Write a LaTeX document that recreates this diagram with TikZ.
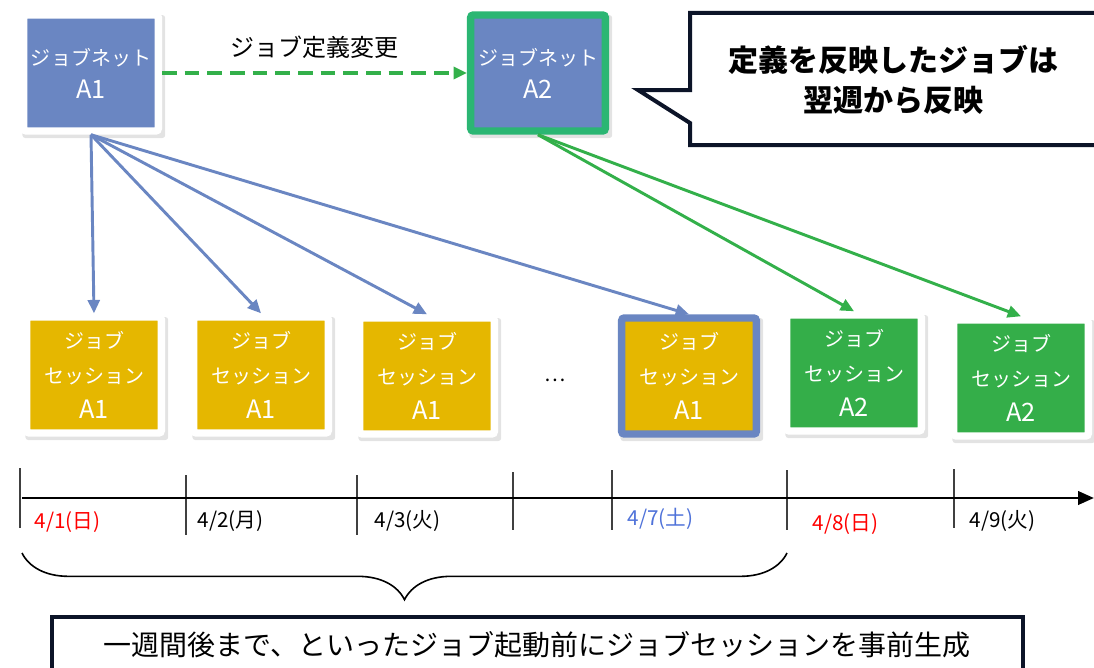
\documentclass[tikz,border=0pt]{standalone}
\usepackage{fontspec}
\setmainfont{Noto Sans CJK JP}
\usetikzlibrary{arrows.meta,positioning,shadows,decorations.pathreplacing}
\definecolor{netblue}{HTML}{6A86C2}
\definecolor{sessgold}{HTML}{E5B700}
\definecolor{sessgreen}{HTML}{34AE49}
\definecolor{netgreen}{HTML}{2BB673}
\definecolor{arrowgreen}{HTML}{33B04A}
\definecolor{navy}{HTML}{0C1428}
\definecolor{dateblue}{HTML}{4F72D9}
\newcommand{\idtxt}[1]{{\fontsize{19}{20}\selectfont #1}}

\begin{document}
\begin{tikzpicture}[x=0.75pt, y=-0.75pt,
    card/.style={rectangle, draw=white, line width=5.6pt, rounded corners=2pt, minimum width=101pt, minimum height=87pt, inner sep=0pt, text=white, align=center, drop shadow={shadow xshift=2pt, shadow yshift=-2.5pt, shadow scale=1.06, opacity=0.22}},
    net/.style={card, fill=netblue, font=\fontsize{15}{24.75}\selectfont},
    sess/.style={card, font=\fontsize{15}{26.25}\selectfont},
    blink/.style={-{Triangle[length=10pt,width=9pt]}, draw=netblue, line width=2.2pt},
    glink/.style={blink, draw=arrowgreen},
    date/.style={anchor=west, font=\fontsize{15.5}{17}\selectfont},
    frame/.style={draw=navy, line width=3pt, line join=miter}
]
\useasboundingbox (0,0) rectangle (1094,667);

\node[net] (netA1) at (91,73) {ジョブネット\\\idtxt{A1}};
\node[net, draw=netgreen] (netA2) at (538,73) {ジョブネット\\\idtxt{A2}};

\node[sess, fill=sessgold] (sess1) at (94,375) {ジョブ\\セッション\\\idtxt{A1}};
\node[sess, fill=sessgold] (sess2) at (261,375) {ジョブ\\セッション\\\idtxt{A1}};
\node[sess, fill=sessgold] (sess3) at (427,376) {ジョブ\\セッション\\\idtxt{A1}};
\node[font=\fontsize{15}{16}\selectfont] (dots) at (555,380) {…};
\node[sess, fill=sessgold, draw=netblue] (sess4) at (689,376) {ジョブ\\セッション\\\idtxt{A1}};
\node[sess, fill=sessgreen] (sess5) at (854,373) {ジョブ\\セッション\\\idtxt{A2}};
\node[sess, fill=sessgreen] (sess6) at (1021,378) {ジョブ\\セッション\\\idtxt{A2}};

\draw[glink, line width=2.8pt, dash pattern=on 11pt off 6pt] (netA1.east) -- (netA2.west)
    node[midway, above=6pt, text=black, font=\fontsize{18}{20}\selectfont] {ジョブ定義変更};

\foreach \s in {sess1,sess2,sess3,sess4}
    \draw[blink] (netA1.south) -- (\s.north);
\foreach \s in {sess5,sess6}
    \draw[glink] (netA2.south) -- (\s.north);

\draw[frame, fill=white] (690,13) -- (1100,13) -- (1100,145) -- (690,145) -- (690,123) -- (638,90) -- (690,90) -- cycle;
\node[font=\bfseries\fontsize{22.5}{30}\selectfont, align=center] (msg) at (893,80) {定義を反映したジョブは\\翌週から反映};

\coordinate (t0) at (22,498);
\coordinate (t1) at (1094,498);
\foreach \x/\ya/\yb in {20/468/528, 186/475/535, 357/475/535, 513/472/530, 612/470/530, 787/470/530, 954/469/528}
    \draw[line width=0.8pt, black!75] (\x,\ya) -- (\x,\yb);
\draw[-{Triangle[length=12pt,width=10pt]}, line width=2.2pt] (t0) -- (t1);

\node[date, text=red] (d1) at (30,522) {4/1(日)};
\node[date] (d2) at (193,521) {4/2(月)};
\node[date] (d3) at (370,521) {4/3(火)};
\node[date, text=dateblue] (d7) at (623,519) {4/7(土)};
\node[date, text=red] (d8) at (808,524) {4/8(日)};
\node[date] (d9) at (965,521) {4/9(火)};

\draw[decorate, decoration={brace, amplitude=35pt}, line width=1.2pt] (787,553) -- (22,553);

\draw[frame] (52,617) rectangle (1023,700);
\node[font=\fontsize{21}{24}\selectfont] (summary) at (537,645) {一週間後まで、といったジョブ起動前にジョブセッションを事前生成};

\end{tikzpicture}
\end{document}
